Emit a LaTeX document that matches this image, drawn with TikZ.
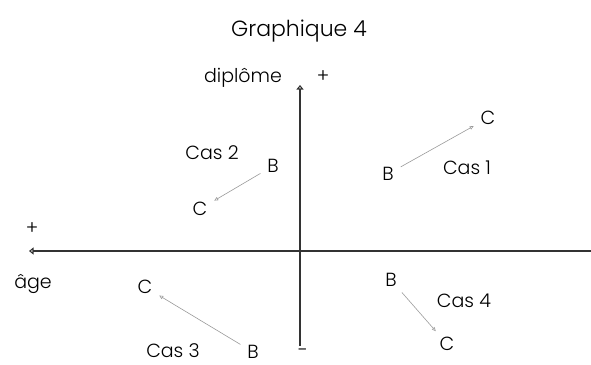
\documentclass[tikz,border=0pt]{standalone}
\usepackage{fontspec}
\setmainfont{Poppins}[UprightFont={* Light}]
\usetikzlibrary{arrows.meta}
\begin{document}
\begin{tikzpicture}[x=1pt,y=-1pt,
  lbl/.style={inner sep=0pt, outer sep=0pt, font=\fontsize{19}{22}\selectfont},
  ttl/.style={inner sep=0pt, font=\fontsize{22}{26}\selectfont},
  axisline/.style={draw=black!80, line width=1.1pt, -{Triangle[open,length=4.5pt,width=7pt]}},
  move/.style={draw=black!40, line width=0.6pt, -{Triangle[open,length=4pt,width=3.5pt]}, shorten >=8pt, shorten <=8pt}]
\useasboundingbox (0,0) rectangle (591,364);
\node[ttl, anchor=base] (title) at (299,36) {Graphique 4};
% axes
\coordinate (vtop) at (300,85);
\coordinate (vbot) at (300,346);
\coordinate (hright) at (591,251);
\coordinate (hleft) at (29,251);
\draw[axisline] (vbot) -- (vtop);
\draw[axisline] (hright) -- (hleft);
\node[lbl, anchor=base] (dip) at (243,82) {diplôme};
\node[lbl] (dplus) at (323,77) {+};
\node[lbl] (aplus) at (32,229) {+};
\node[lbl, anchor=base] (age) at (33,288) {âge};
\node[lbl] (minus) at (303,353) {-};
% Cas 1
\node[lbl] (C1) at (488,118) {C};
\node[lbl] (B1) at (388,174) {B};
\node[lbl] (L1) at (467,168) {Cas 1};
\draw[move] (B1) -- (C1);
% Cas 2
\node[lbl] (L2) at (212,153) {Cas 2};
\node[lbl] (B2) at (273,166) {B};
\node[lbl] (C2) at (200,209) {C};
\draw[move] (B2) -- (C2);
% Cas 3
\node[lbl] (C3) at (145,287) {C};
\node[lbl] (B3) at (253,352) {B};
\node[lbl] (L3) at (173,351) {Cas 3};
\draw[move] (B3) -- (C3);
% Cas 4
\node[lbl] (B4) at (391,280) {B};
\node[lbl] (L4) at (464,301) {Cas 4};
\node[lbl] (C4) at (447,344) {C};
\draw[move] (B4) -- (C4);
\end{tikzpicture}
\end{document}
